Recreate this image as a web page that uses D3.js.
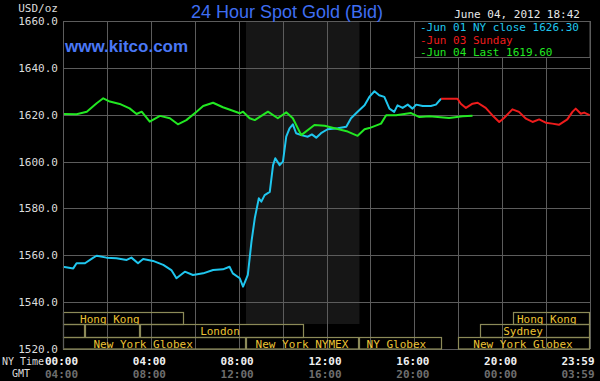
<!DOCTYPE html>
<html><head><meta charset="utf-8">
<script src="https://cdn.jsdelivr.net/npm/d3@7"></script>
<style>
html,body{margin:0;padding:0;background:#000;}
svg{display:block;}
</style></head>
<body>
<svg id="chart" width="600" height="381"></svg>
<script>
// ---- data (time = minutes after 00:00 New York time) ----
const yTicks = [1520, 1540, 1560, 1580, 1600, 1620, 1640, 1660];
const timeTicks = [0, 240, 480, 720, 960, 1200, 1439];
const nyLabels = ["00:00", "04:00", "08:00", "12:00", "16:00", "20:00", "23:59"];
const gmtLabels = ["04:00", "08:00", "12:00", "16:00", "20:00", "00:00", "03:59"];

const jun01Times = [0,28,37,60,83,92,119,146,174,187,205,219,246,274,296,310,333,355,383,410,437,455,464,483,492,505,515,524,535,542,551,565,574,580,592,601,610,619,628,637,651,669,680,692,705,723,751,774,787,805,824,837,851,864,878,892,905,914,928,942,955,965,983,1005,1019,1033];
const jun01Values = [1555.1,1554.4,1556.6,1556.6,1559.0,1559.8,1559.0,1558.7,1558.0,1559.0,1556.6,1558.4,1557.6,1555.9,1553.7,1550.2,1553.0,1551.6,1552.3,1553.7,1554.0,1555.1,1552.3,1550.2,1546.6,1551.6,1565.8,1575.8,1584.3,1582.9,1585.7,1587.1,1598.5,1601.4,1598.5,1600.0,1610.6,1614.2,1615.9,1612.1,1611.3,1610.6,1611.6,1610.2,1612.1,1613.8,1614.2,1614.9,1618.5,1621.3,1624.0,1627.6,1630.0,1628.3,1627.6,1622.6,1621.2,1624.0,1622.9,1624.3,1622.6,1624.3,1623.7,1623.7,1624.3,1626.8];

const jun03Times = [1033,1078,1087,1101,1119,1133,1155,1173,1192,1205,1228,1246,1265,1283,1301,1319,1337,1355,1378,1392,1401,1415,1424,1439];
const jun03Values = [1626.8,1626.8,1624.7,1622.9,1624.7,1625.1,1622.9,1619.8,1616.9,1618.6,1622.3,1621.2,1618.3,1616.9,1618.0,1616.6,1616.2,1615.7,1618.0,1621.2,1622.6,1620.4,1620.9,1619.8];

const jun04Times = [0,37,65,92,110,128,155,182,201,215,237,265,292,314,337,365,383,410,437,464,483,492,510,524,560,587,610,628,651,687,715,742,778,805,824,837,869,883,910,951,974,1001,1055,1092,1119];
const jun04Values = [1620.3,1620.2,1621.3,1624.9,1627.0,1625.6,1624.6,1622.7,1620.3,1621.3,1617.0,1619.5,1618.5,1615.9,1617.7,1621.3,1623.7,1625.1,1623.2,1621.7,1620.6,1621.3,1618.5,1617.7,1621.3,1618.5,1621.0,1618.5,1611.3,1615.6,1615.3,1614.2,1612.8,1611.0,1613.8,1614.3,1616.2,1619.8,1619.8,1620.7,1619.0,1619.3,1618.6,1619.3,1619.6];

const legendLabels = ["Jun 01 NY close 1626.30", "Jun 03 Sunday", "Jun 04 Last 1619.60"];
const pitSession = [500, 810];

// market sessions: row, start, end, label, label centre
const sessRow = [0, 0, 1, 1, 1, 1, 2, 2, 2, 2];
const sessStart = [0, 1230, 0, 60, 210, 1140, 0, 500, 810, 1080];
const sessEnd = [331, 1440, 60, 210, 658, 1440, 500, 810, 1035, 1440];
const sessLabel = ["Hong Kong", "Hong Kong", "", "", "London", "Sydney", "New York Globex", "New York NYMEX", "NY Globex", "New York Globex"];
const sessLabelAt = [128, 1322, 0, 0, 429, 1257, 219, 653, 911, 1257];

// ---- drawing ----
const svg = d3.select("#chart");
const L = 63, R = 590, T = 21, B = 349;
const x = d3.scaleLinear().domain([0, 1440]).range([L, R]);
const y = d3.scaleLinear().domain([1520, 1660]).range([B, T]);
const mono = "'DejaVu Sans Mono', 'Liberation Mono', monospace";
const colors = ["#1fc6ee", "#ee1c1c", "#22e822"];
const gridCol = "#5c5c5c";

svg.append("rect").attr("width", 600).attr("height", 381).attr("fill", "#000");

// pit session shading
svg.append("rect")
  .attr("x", x(pitSession[0])).attr("y", T)
  .attr("width", x(pitSession[1]) - x(pitSession[0]))
  .attr("height", 324 - T)
  .attr("fill", "#161616");

// grid
const vGrid = d3.range(0, 1441, 120);
svg.append("g").selectAll("line").data(vGrid).join("line")
  .attr("x1", d => Math.round(x(d)) + 0.5).attr("x2", d => Math.round(x(d)) + 0.5)
  .attr("y1", T).attr("y2", B)
  .attr("stroke", gridCol).attr("stroke-width", 1);
svg.append("g").selectAll("line").data(yTicks).join("line")
  .attr("x1", L).attr("x2", R)
  .attr("y1", d => Math.round(y(d)) + 0.5).attr("y2", d => Math.round(y(d)) + 0.5)
  .attr("stroke", gridCol).attr("stroke-width", 1);

// y axis labels
const yAxis = d3.axisLeft(y).tickValues(yTicks).tickFormat(d => d.toFixed(1)).tickSize(0).tickPadding(5);
const ya = svg.append("g").attr("transform", `translate(${L},0)`).call(yAxis);
ya.select(".domain").remove();
ya.selectAll("text").attr("fill", "#dcdcdc").style("font-family", mono).style("font-size", "11px");

svg.append("text").attr("x", 58).attr("y", 8).attr("dy", "0.35em").attr("text-anchor", "end")
  .attr("fill", "#dcdcdc").style("font-family", mono).style("font-size", "11px").text("USD/oz");

// market session boxes
const rowTop = [312.5, 324.5, 337.5];
const rowH = [12, 13, 11.5];
const sg = svg.append("g");
sessRow.forEach((r, i) => {
  sg.append("rect")
    .attr("x", Math.round(x(sessStart[i])) + 0.5).attr("y", rowTop[r])
    .attr("width", Math.round(x(sessEnd[i])) - Math.round(x(sessStart[i])) - 1)
    .attr("height", rowH[r])
    .attr("fill", "none").attr("stroke", "#8c8a58").attr("stroke-width", 1.2);
  if (sessLabel[i]) {
    sg.append("text").attr("x", x(sessLabelAt[i])).attr("y", rowTop[r] + rowH[r] / 2 + 0.5)
      .attr("dy", "0.35em").attr("text-anchor", "middle")
      .attr("fill", "#ecc334").style("font-family", mono).style("font-size", "11px")
      .text(sessLabel[i]);
  }
});

// lines
const series = [
  [jun01Times, jun01Values],
  [jun03Times, jun03Values],
  [jun04Times, jun04Values]
];
const line = d3.line().x(d => x(d[0])).y(d => y(d[1]));
series.forEach((s, i) => {
  const pts = s[0].map((t, k) => [t, s[1][k]]);
  svg.append("path").datum(pts).attr("d", line)
    .attr("fill", "none").attr("stroke", colors[i]).attr("stroke-width", 2)
    .attr("stroke-linejoin", "round");
});

// time axis labels
const tg = svg.append("g").style("font-family", mono).style("font-size", "11px");
timeTicks.forEach((t, i) => {
  const last = i === timeTicks.length - 1;
  const xp = last ? x(t) + 5 : x(t) - 1.5;
  tg.append("text").attr("x", xp).attr("y", 361).attr("dy", "0.35em")
    .attr("text-anchor", last ? "end" : "middle").attr("fill", "#f0f0f0").attr("font-weight", "bold")
    .text(nyLabels[i]);
  tg.append("text").attr("x", xp).attr("y", 374.5).attr("dy", "0.35em")
    .attr("text-anchor", last ? "end" : "middle").attr("fill", "#6e6e6e").attr("font-weight", "bold")
    .text(gmtLabels[i]);
});
tg.append("text").attr("x", 2).attr("y", 361).attr("dy", "0.35em").attr("fill", "#dcdcdc")
  .style("font-size", "10px").text("NY Time");
tg.append("text").attr("x", 12).attr("y", 373.5).attr("dy", "0.35em").attr("fill", "#dcdcdc")
  .style("font-size", "10px").text("GMT");

// title
svg.append("text").attr("x", 287).attr("y", 12).attr("dy", "0.35em").attr("text-anchor", "middle")
  .attr("fill", "#3f6ef2").style("font-family", "'Liberation Sans', Arial, sans-serif").style("font-size", "18px")
  .text("24 Hour Spot Gold (Bid)");
svg.append("text").attr("x", 65).attr("y", 46).attr("dy", "0.35em")
  .attr("fill", "#4a78f6").attr("font-weight", "bold")
  .style("font-family", "'Liberation Sans', Arial, sans-serif").style("font-size", "17px")
  .text("www.kitco.com");

// date
svg.append("text").attr("x", 580).attr("y", 14).attr("dy", "0.35em").attr("text-anchor", "end")
  .attr("fill", "#e8e8e8").style("font-family", mono).style("font-size", "11px")
  .text("June 04, 2012 18:42");

// legend
svg.append("rect").attr("x", 414.5).attr("y", T + 0.5).attr("width", R - 414.5).attr("height", 36)
  .attr("fill", "#000").attr("stroke", gridCol);
legendLabels.forEach((lab, i) => {
  svg.append("text").attr("x", 420).attr("y", 27.5 + i * 12.2).attr("dy", "0.35em")
    .attr("fill", colors[i]).style("font-family", mono).style("font-size", "11px")
    .text("-" + lab);
});

// plot frame left
svg.append("line").attr("x1", L + 0.5).attr("x2", L + 0.5).attr("y1", T).attr("y2", B).attr("stroke", gridCol);
</script>
</body></html>
